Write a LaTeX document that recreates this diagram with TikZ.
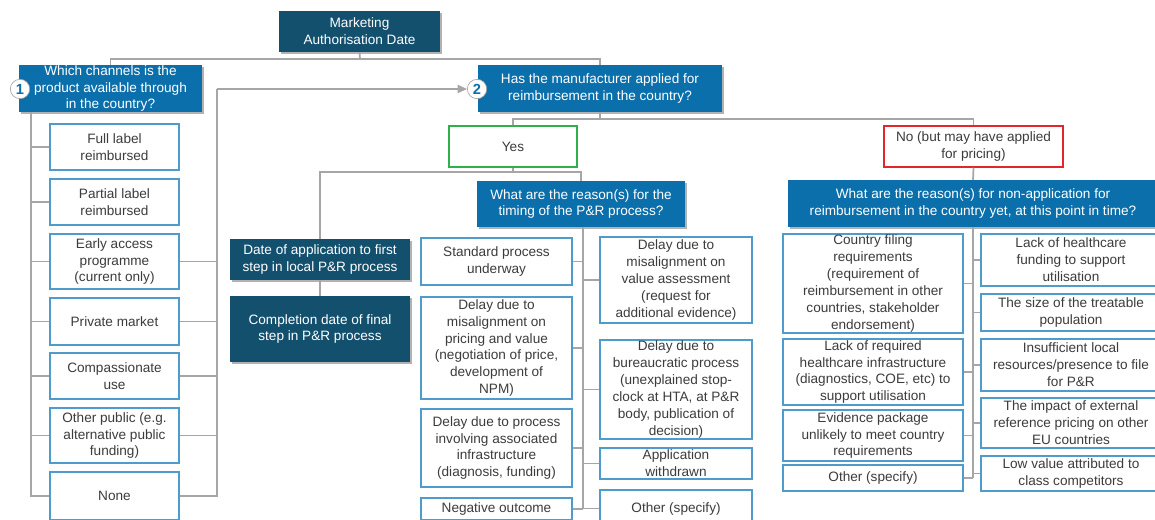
\documentclass[tikz,border=0pt]{standalone}
\usepackage{fontspec}
\setmainfont{Liberation Sans}
\usetikzlibrary{arrows.meta,shadows}
\definecolor{dkblue}{HTML}{13506E}
\definecolor{qblue}{HTML}{0B6FAB}
\definecolor{optblue}{HTML}{4F9BCB}
\definecolor{okgreen}{HTML}{2EB14B}
\definecolor{nored}{HTML}{E2262C}
\definecolor{lngray}{HTML}{A6A6A6}
\definecolor{txtgray}{HTML}{3C3C3C}
\newcommand{\mkbox}[7]{%
  \pgfmathsetmacro{\mbcx}{(#2+#4)/2}%
  \pgfmathsetmacro{\mbcy}{(#3+#5)/2}%
  \pgfmathsetmacro{\mbw}{(#4-#2)*0.75}%
  \pgfmathsetmacro{\mbh}{(#5-#3)*0.75}%
  \node[#6, minimum width=\mbw pt, minimum height=\mbh pt] (#1) at (\mbcx,\mbcy) {#7};%
}
\begin{document}
\begin{tikzpicture}[x=0.75pt,y=-0.75pt,
  basebox/.style={rectangle, align=center, inner xsep=2pt, inner ysep=0pt,
    font=\fontsize{10.2}{12.7}\selectfont},
  darkbox/.style={basebox, fill=dkblue, text=white,
    drop shadow={shadow xshift=1.5pt, shadow yshift=-1.5pt, fill=black, opacity=0.3}},
  bluebox/.style={basebox, fill=qblue, text=white,
    drop shadow={shadow xshift=1.5pt, shadow yshift=-1.5pt, fill=black, opacity=0.3}},
  optbox/.style={basebox, fill=white, draw=optblue, line width=1.2pt, text=txtgray},
  yesbox/.style={basebox, fill=white, draw=okgreen, line width=1.1pt, text=txtgray},
  nobox/.style={basebox, fill=white, draw=nored, line width=1.1pt, text=txtgray},
  numcirc/.style={circle, draw=lngray, line width=0.5pt, fill=white, text=qblue,
    minimum size=14.5pt, inner sep=0pt, font=\fontsize{11}{11}\selectfont\bfseries},
  conn/.style={draw=lngray, line width=1.3pt},
  arr/.style={conn, -{Triangle[length=7pt,width=6pt]}}
]
\useasboundingbox (0,0) rectangle (1155,519);
\clip (0,0) rectangle (1155,519);
\fill[white] (0,0) rectangle (1155,519);

% top and questions
\mkbox{title}{279}{11}{440}{52}{darkbox}{Marketing\\Authorisation Date}
\mkbox{q1}{19}{65}{202}{112}{bluebox}{Which channels is the\\product available through\\in the country?}
\mkbox{q2}{478}{65}{722}{112}{bluebox}{Has the manufacturer applied for\\reimbursement in the country?}
\node[numcirc] (c1) at (20,89) {1};
\node[numcirc] (c2) at (477,89) {2};

% channel options
\mkbox{o1}{50}{124}{179}{170}{optbox}{Full label\\reimbursed}
\mkbox{o2}{50}{179}{179}{225}{optbox}{Partial label\\reimbursed}
\mkbox{o3}{50}{234}{179}{289}{optbox}{Early access\\programme\\(current only)}
\mkbox{o4}{50}{298}{179}{345}{optbox}{Private market}
\mkbox{o5}{50}{353}{179}{399}{optbox}{Compassionate\\use}
\mkbox{o6}{50}{408}{179}{463}{optbox}{Other public (e.g.\\alternative public\\funding)}
\mkbox{o7}{50}{472}{179}{520}{optbox}{None}

% yes / no
\mkbox{yes}{449}{126}{577}{167}{yesbox}{Yes}
\mkbox{no}{884}{126}{1063}{167}{nobox}{No (but may have applied\\for pricing)}
\mkbox{q3}{477}{181}{685}{227}{bluebox}{What are the reason(s) for the\\timing of the P\&R process?}
\mkbox{q4}{788}{180}{1158}{227}{bluebox}{What are the reason(s) for non-application for\\reimbursement in the country yet, at this point in time?}

% dates
\mkbox{d1}{230}{239}{410}{280}{darkbox}{Date of application to first\\step in local P\&R process}
\mkbox{d2}{230}{296}{410}{362}{darkbox}{Completion date of final\\step in P\&R process}

% reasons for timing
\mkbox{r1}{421}{238}{572}{285}{optbox}{Standard process\\underway}
\mkbox{r2}{421}{297}{572}{399}{optbox}{Delay due to\\misalignment on\\pricing and value\\(negotiation of price,\\development of\\NPM)}
\mkbox{r3}{421}{409}{572}{487}{optbox}{Delay due to process\\involving associated\\infrastructure\\(diagnosis, funding)}
\mkbox{r4}{421}{498}{572}{520}{optbox}{Negative outcome}
\mkbox{r5}{600}{237}{752}{323}{optbox}{Delay due to\\misalignment on\\value assessment\\(request for\\additional evidence)}
\mkbox{r6}{600}{340}{752}{439}{optbox}{Delay due to\\bureaucratic process\\(unexplained stop-\\clock at HTA, at P\&R\\body, publication of\\decision)}
\mkbox{r7}{600}{448}{752}{479}{optbox}{Application\\withdrawn}
\mkbox{r8}{600}{490}{752}{527}{optbox}{Other (specify)}

% reasons for non-application
\mkbox{n1}{783}{234}{963}{333}{optbox}{Country filing\\requirements\\(requirement of\\reimbursement in other\\countries, stakeholder\\endorsement)}
\mkbox{n2}{783}{339}{963}{405}{optbox}{Lack of required\\healthcare infrastructure\\(diagnostics, COE, etc) to\\support utilisation}
\mkbox{n3}{783}{410}{963}{461}{optbox}{Evidence package\\unlikely to meet country\\requirements}
\mkbox{n4}{783}{465}{963}{491}{optbox}{Other (specify)}
\mkbox{n5}{981}{234}{1161}{286}{optbox}{Lack of healthcare\\funding to support\\utilisation}
\mkbox{n6}{981}{294}{1161}{331}{optbox}{The size of the treatable\\population}
\mkbox{n7}{981}{339}{1161}{391}{optbox}{Insufficient local\\resources/presence to file\\for P\&R}
\mkbox{n8}{981}{398}{1161}{448}{optbox}{The impact of external\\reference pricing on other\\EU countries}
\mkbox{n9}{981}{456}{1161}{491}{optbox}{Low value attributed to\\class competitors}

% connectors: top
\coordinate (j0) at (360,59);
\draw[conn] (title.south) -- (j0);
\draw[conn] (q1.north) -- (q1.north |- j0) -- (q2.north |- j0) -- (q2.north);

% left spine
\coordinate (ls) at (31,112);
\draw[conn] (ls) |- (o7.west);
\foreach \o in {o1,o2,o3,o4,o5,o6}{\draw[conn] (ls |- \o.west) -- (\o.west);}

% right spine with arrow to question 2
\coordinate (rs) at (217,89);
\draw[arr] (rs) -- (c2.west);
\draw[conn] (rs) |- (o7.east);
\foreach \o in {o3,o4,o5,o6}{\draw[conn] (\o.east) -- (rs |- \o.east);}

% yes / no split
\coordinate (j1) at (600,119);
\draw[conn] (q2.south) -- (j1);
\draw[conn] (yes.north) |- (j1) -| (no.north);

% yes branch
\coordinate (j2) at (513,172);
\draw[conn] (yes.south) -- (j2);
\draw[conn] (d1.north) |- (j2) -| (q3.north);
\draw[conn] (d1.south) -- (d2.north);

% no branch
\draw[conn] (no.south) -- (q4.north);

% timing reasons spine
\coordinate (s3) at (583,227);
\draw[conn] (s3) -- (s3 |- r4.east);
\foreach \r in {r1,r2,r3,r4}{\draw[conn] (\r.east) -- (s3 |- \r.east);}
\foreach \r in {r5,r6,r7,r8}{\draw[conn] (s3 |- \r.west) -- (\r.west);}

% non-application spine
\coordinate (s4) at (973,227);
\draw[conn] (s4) -- (s4 |- n4.east);
\foreach \n in {n1,n2,n3,n4}{\draw[conn] (\n.east) -- (s4 |- \n.east);}
\foreach \n in {n5,n6,n7,n8,n9}{\draw[conn] (s4 |- \n.west) -- (\n.west);}
\end{tikzpicture}
\end{document}
